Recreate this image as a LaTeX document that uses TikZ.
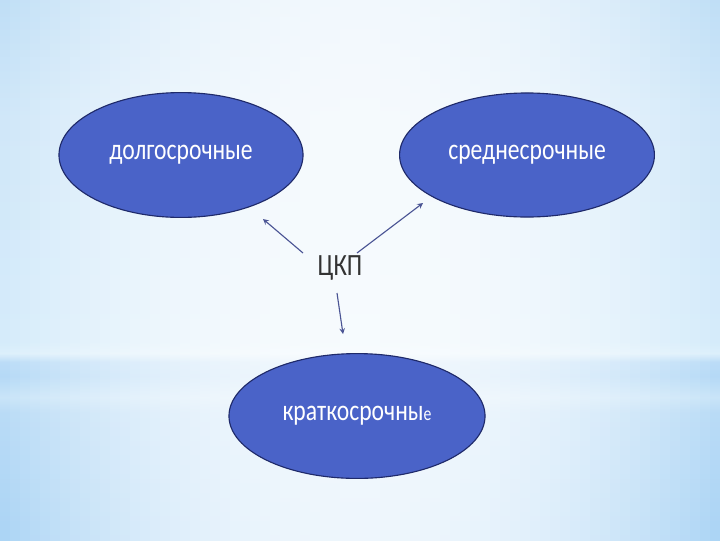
\documentclass[tikz,border=0pt]{standalone}
\usepackage{fontspec}
\usepackage{xcolor}
\usepackage{tikz}
\usetikzlibrary{shapes.geometric}
\setmainfont{Carlito}
\newfontfamily\labfont[FakeStretch=0.8]{Carlito}

\definecolor{termblue}{HTML}{4A63C8}
\definecolor{termline}{HTML}{1F2A6A}
\definecolor{arrowcol}{HTML}{4A5494}

% side colour of the background, top (75bp) to bottom (25bp)
\pgfdeclareverticalshading{sideprof}{100bp}{
  color(0bp)=(rgb,255:red,170;green,212;blue,245);
  color(25bp)=(rgb,255:red,170;green,212;blue,245);
  color(37bp)=(rgb,255:red,184;green,219;blue,246);
  color(38.4bp)=(rgb,255:red,200;green,228;blue,248);
  color(40.3bp)=(rgb,255:red,180;green,217;blue,246);
  color(41.6bp)=(rgb,255:red,186;green,220;blue,247);
  color(42.4bp)=(rgb,255:red,220;green,239;blue,251);
  color(43.5bp)=(rgb,255:red,212;green,235;blue,250);
  color(63.9bp)=(rgb,255:red,207;green,231;blue,249);
  color(75bp)=(rgb,255:red,190;green,222;blue,246);
  color(100bp)=(rgb,255:red,190;green,222;blue,246)}

\tikzset{
  term/.style={ellipse, draw=termline, fill=termblue, line width=0.8pt, inner sep=0pt,
    text=white, font=\labfont\fontsize{21}{24}\selectfont},
  link/.style={-stealth, draw=arrowcol, line width=0.8pt}
}

\begin{document}
\begin{tikzpicture}[x=0.025cm, y=-0.025cm]
                    \useasboundingbox (0,0) rectangle (720,540);
                    % background
                    \shade[shading=sideprof] (-4,-4) rectangle (724,544);
                    \foreach \i in {0,...,71} {
                      \pgfmathsetmacro\op{0.8*(1-(abs(\i*10+5-360)/360)^2.2)}
                      \fill[white, fill opacity=\op] (\i*10,-4) rectangle ++(10,548);
                    }

                    \node[term, minimum width=6.1cm, minimum height=3.12cm] (T1) at (181,155) {долгосрочные};
                    \node[term, minimum width=6.37cm, minimum height=3.1cm] (T2) at (527,155) {среднесрочные};
                    \node[term, minimum width=6.4cm, minimum height=3.12cm] (T3) at (357,416) {краткосрочны{\fontsize{14}{16}\selectfont е}};
                    \node[text=black!80, font=\labfont\fontsize{22}{25}\selectfont] (C) at (340,268) {ЦКП};

                    \coordinate (C1) at (303,253);
                    \coordinate (C2) at (357,253);
                    \coordinate (C3) at (337,293);
                    \coordinate (E1) at (263,219);
                    \coordinate (E2) at (423,203);
                    \coordinate (E3) at (343,334);

                    \draw[link] (C1) -- (E1);
                    \draw[link] (C2) -- (E2);
                    \draw[link] (C3) -- (E3);
                \end{tikzpicture}
\end{document}
